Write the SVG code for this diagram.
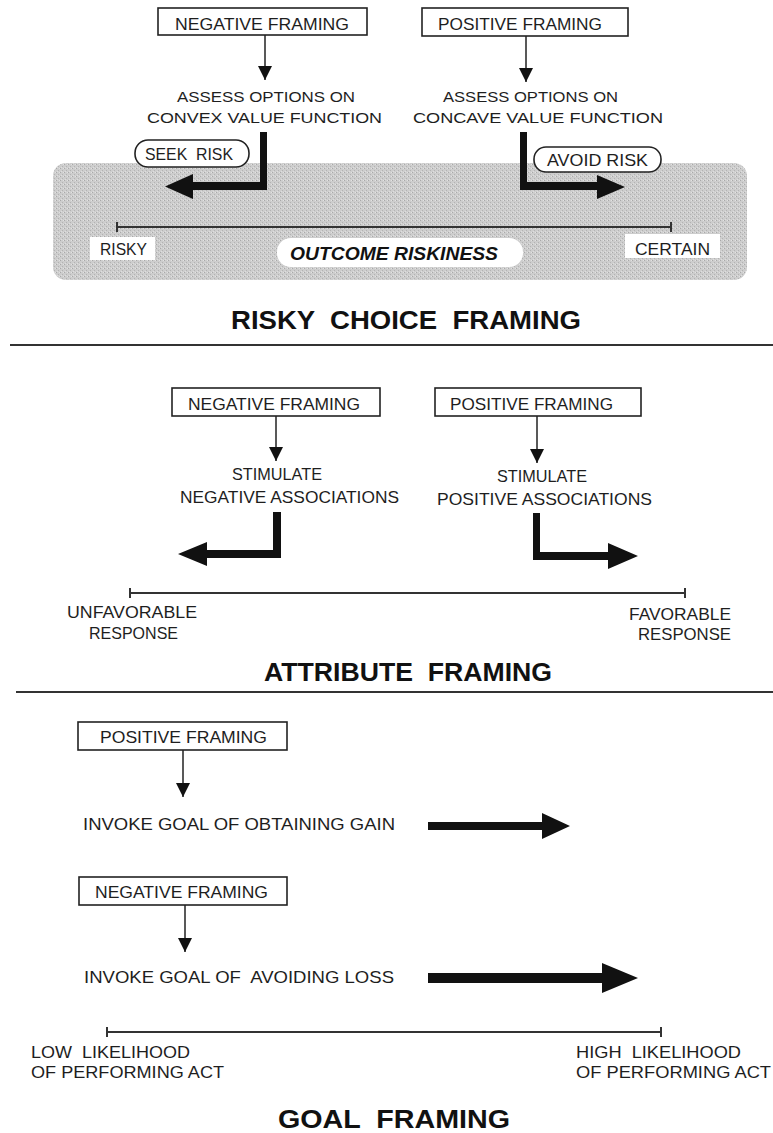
<svg xmlns="http://www.w3.org/2000/svg" width="773" height="1133" viewBox="0 0 773 1133">
<style>
.t{font-family:"Liberation Sans",Arial,sans-serif;font-size:17px;fill:#1e1e1e}
.s{font-size:15.5px}
.m{text-anchor:middle}
.h{font-family:"Liberation Sans",Arial,sans-serif;font-size:26px;font-weight:bold;fill:#111;text-anchor:middle}
.bi{font-weight:bold;font-style:italic;font-size:18px;fill:#111}
.box{fill:#fff;stroke:#222;stroke-width:1.6}
.thin{stroke:#222;stroke-width:1.5;fill:none;marker-end:url(#ah)}
.heavy{fill:#111;stroke:none}
.axis{stroke:#333;stroke-width:2;fill:none}
.div{stroke:#333;stroke-width:2.2}
.wb{fill:#fff;stroke:none}
</style>
<defs>
<marker id="ah" markerUnits="userSpaceOnUse" markerWidth="14" markerHeight="16" viewBox="0 0 14 16" refX="14" refY="7" orient="auto">
<path d="M0,0 L14,7 L0,14 Z" fill="#111"/>
</marker>
<pattern id="stip" width="4" height="4" patternUnits="userSpaceOnUse">
<rect width="4" height="4" fill="#cdcdcd"/>
<rect x="0" y="0" width="1" height="1" fill="#a9a9a9"/>
<rect x="2" y="2" width="1" height="1" fill="#b3b3b3"/>
<rect x="3" y="0" width="1" height="1" fill="#e2e2e2"/>
<rect x="1" y="3" width="1" height="1" fill="#dedede"/>
</pattern>
</defs>

<!-- Section 1 background -->
<rect id="riskiness-field" x="53" y="163" width="694" height="117" rx="13" fill="url(#stip)"/>

<g id="connectors">
<!-- thin arrows -->
<line class="thin" x1="265" y1="35" x2="265" y2="80"/>
<line class="thin" x1="526" y1="36" x2="526" y2="82"/>
<line class="thin" x1="276" y1="416" x2="276" y2="461"/>
<line class="thin" x1="537" y1="416" x2="537" y2="463"/>
<line class="thin" x1="183" y1="750" x2="183" y2="797"/>
<line class="thin" x1="185" y1="905" x2="185" y2="952"/>
<!-- heavy arrows -->
<path class="heavy" d="M260,132 H267 V190 H193 V199 L165,186.5 L193,174 V182 H260 Z"/>
<path class="heavy" d="M520,132 H527 V182 H597 V175 L625,187 L597,199 V190 H520 Z"/>
<path class="heavy" d="M273,512 H281 V558 H207 V566 L178,554 L207,542 V550 H273 Z"/>
<path class="heavy" d="M533,513 H540 V552 H608 V543 L638,556 L608,569 V560 H533 Z"/>
<path class="heavy" d="M428,822 H542 V813 L570,826 L542,839 V830 H428 Z"/>
<path class="heavy" d="M428,973 H602 V963 L638,978 L602,993 V983 H428 Z"/>
</g>

<!-- Section 1: Risky choice framing -->
<g id="rc-negative">
<rect class="box" x="158" y="8" width="209" height="27"/>
<text class="t m" x="262" y="30" textLength="174" lengthAdjust="spacingAndGlyphs">NEGATIVE FRAMING</text>
</g>
<g id="rc-positive">
<rect class="box" x="422" y="8" width="206" height="28"/>
<text class="t m" x="520" y="30" textLength="164" lengthAdjust="spacingAndGlyphs">POSITIVE FRAMING</text>
</g>
<g id="rc-convex">
<text class="t s m" x="266" y="102" textLength="178" lengthAdjust="spacingAndGlyphs">ASSESS OPTIONS ON</text>
<text class="t s m" x="264.5" y="123" textLength="235" lengthAdjust="spacingAndGlyphs">CONVEX VALUE FUNCTION</text>
</g>
<g id="rc-concave">
<text class="t s m" x="530.5" y="102" textLength="175" lengthAdjust="spacingAndGlyphs">ASSESS OPTIONS ON</text>
<text class="t s m" x="538" y="123" textLength="250" lengthAdjust="spacingAndGlyphs">CONCAVE VALUE FUNCTION</text>
</g>
<g id="rc-seek">
<rect class="box" x="135" y="140" width="114" height="27" rx="13"/>
<text class="t m" x="189" y="160" textLength="88" lengthAdjust="spacingAndGlyphs" xml:space="preserve">SEEK  RISK</text>
</g>
<g id="rc-avoid">
<rect class="box" x="534" y="147" width="127" height="25" rx="12"/>
<text class="t m" x="597.5" y="166" textLength="101" lengthAdjust="spacingAndGlyphs">AVOID RISK</text>
</g>
<g id="rc-axis">
<line class="axis" x1="117" y1="227" x2="671" y2="227"/>
<line class="axis" x1="117" y1="222" x2="117" y2="232"/>
<line class="axis" x1="671" y1="222" x2="671" y2="232"/>
<rect class="wb" x="90" y="237" width="65" height="23"/>
<text class="t m" x="123.5" y="255" textLength="47" lengthAdjust="spacingAndGlyphs">RISKY</text>
<rect class="wb" x="277" y="238" width="246" height="29" rx="14"/>
<text class="t bi m" x="394" y="260" textLength="208" lengthAdjust="spacingAndGlyphs">OUTCOME RISKINESS</text>
<rect class="wb" x="625" y="234" width="95" height="24"/>
<text class="t m" x="672.5" y="255" textLength="75" lengthAdjust="spacingAndGlyphs">CERTAIN</text>
</g>
<text id="title-risky" class="h" x="406" y="329" textLength="350" lengthAdjust="spacingAndGlyphs" xml:space="preserve">RISKY  CHOICE  FRAMING</text>
<line class="div" x1="10" y1="345" x2="773" y2="345"/>

<!-- Section 2: Attribute framing -->
<g id="at-negative">
<rect class="box" x="172" y="388" width="208" height="28"/>
<text class="t m" x="274" y="410" textLength="172" lengthAdjust="spacingAndGlyphs">NEGATIVE FRAMING</text>
</g>
<g id="at-positive">
<rect class="box" x="435" y="388" width="206" height="28"/>
<text class="t m" x="531.5" y="410" textLength="163" lengthAdjust="spacingAndGlyphs">POSITIVE FRAMING</text>
</g>
<g id="at-neg-assoc">
<text class="t m" x="277" y="480" textLength="90" lengthAdjust="spacingAndGlyphs">STIMULATE</text>
<text class="t m" x="289.5" y="503" textLength="219" lengthAdjust="spacingAndGlyphs">NEGATIVE ASSOCIATIONS</text>
</g>
<g id="at-pos-assoc">
<text class="t m" x="542" y="482" textLength="90" lengthAdjust="spacingAndGlyphs">STIMULATE</text>
<text class="t m" x="544.5" y="505" textLength="215" lengthAdjust="spacingAndGlyphs">POSITIVE ASSOCIATIONS</text>
</g>
<g id="at-axis">
<line class="axis" x1="130" y1="593" x2="685" y2="593"/>
<line class="axis" x1="130" y1="588" x2="130" y2="598"/>
<line class="axis" x1="685" y1="588" x2="685" y2="598"/>
<text class="t m" x="132" y="618" textLength="130" lengthAdjust="spacingAndGlyphs">UNFAVORABLE</text>
<text class="t m" x="133.5" y="639" textLength="89" lengthAdjust="spacingAndGlyphs">RESPONSE</text>
<text class="t m" x="680" y="620" textLength="102" lengthAdjust="spacingAndGlyphs">FAVORABLE</text>
<text class="t m" x="684.5" y="640" textLength="93" lengthAdjust="spacingAndGlyphs">RESPONSE</text>
</g>
<text id="title-attribute" class="h" x="408" y="681" textLength="288" lengthAdjust="spacingAndGlyphs" xml:space="preserve">ATTRIBUTE  FRAMING</text>
<line class="div" x1="16" y1="692" x2="773" y2="692"/>

<!-- Section 3: Goal framing -->
<g id="gf-positive">
<rect class="box" x="78" y="722" width="209" height="28"/>
<text class="t m" x="183.5" y="743" textLength="167" lengthAdjust="spacingAndGlyphs">POSITIVE FRAMING</text>
</g>
<g id="gf-gain">
<text class="t" x="83" y="830" textLength="312" lengthAdjust="spacingAndGlyphs">INVOKE GOAL OF OBTAINING GAIN</text>
</g>
<g id="gf-negative">
<rect class="box" x="79" y="877" width="208" height="28"/>
<text class="t m" x="181.5" y="898" textLength="173" lengthAdjust="spacingAndGlyphs">NEGATIVE FRAMING</text>
</g>
<g id="gf-loss">
<text class="t" x="84" y="983" textLength="310" lengthAdjust="spacingAndGlyphs" xml:space="preserve">INVOKE GOAL OF  AVOIDING LOSS</text>
</g>
<g id="gf-axis">
<line class="axis" x1="107" y1="1032" x2="661" y2="1032"/>
<line class="axis" x1="107" y1="1027" x2="107" y2="1037"/>
<line class="axis" x1="661" y1="1027" x2="661" y2="1037"/>
<text class="t" x="31" y="1058" textLength="159" lengthAdjust="spacingAndGlyphs" xml:space="preserve">LOW  LIKELIHOOD</text>
<text class="t" x="31" y="1078" textLength="193" lengthAdjust="spacingAndGlyphs">OF PERFORMING ACT</text>
<text class="t" x="576" y="1058" textLength="165" lengthAdjust="spacingAndGlyphs" xml:space="preserve">HIGH  LIKELIHOOD</text>
<text class="t" x="576" y="1078" textLength="195" lengthAdjust="spacingAndGlyphs">OF PERFORMING ACT</text>
</g>
<text id="title-goal" class="h" x="394" y="1128" textLength="232" lengthAdjust="spacingAndGlyphs" xml:space="preserve">GOAL  FRAMING</text>
</svg>
